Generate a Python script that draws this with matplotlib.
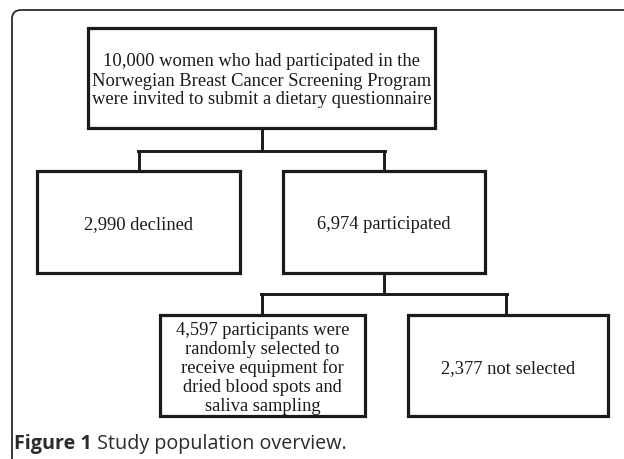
import matplotlib
matplotlib.use("Agg")
import matplotlib.pyplot as plt
from matplotlib.patches import Rectangle, FancyBboxPatch

# box texts of the flow chart
top_text = ["10,000 women who had participated in the",
            "Norwegian Breast Cancer Screening Program",
            "were invited to submit a dietary questionnaire"]
mid_texts = [["2,990 declined"], ["6,974 participated"]]
low_texts = [["4,597 participants were", "randomly selected to",
              "receive equipment for", "dried blood spots and",
              "saliva sampling"],
             ["2,377 not selected"]]
caption_bold = "Figure 1"
caption_rest = " Study population overview."

# box geometry in pixels (x0, y0, x1, y1), y down
top_box = (88, 29, 435, 129)
mid_boxes = [(37, 172, 240, 274), (283, 172, 485, 274)]
low_boxes = [(160, 316, 365, 417), (408, 316, 608, 417)]

fig = plt.figure(figsize=(6.24, 4.60), dpi=100)
ax = fig.add_axes([0, 0, 1, 1])
ax.set_xlim(0, 624)
ax.set_ylim(460, 0)
ax.axis("off")

# outer panel frame (rounded, cut by the image edge)
frame = FancyBboxPatch((12, 11), 640, 459, boxstyle="round,pad=0,rounding_size=9",
                       fill=False, ec="#2b2b2b", lw=1.3)
ax.add_patch(frame)

def box(b, lines, fs=13.3, step=19):
    x0, y0, x1, y1 = b
    ax.add_patch(Rectangle((x0, y0), x1 - x0, y1 - y0, fill=False,
                           ec="#1a1a1a", lw=2.3))
    cx = (x0 + x1) / 2
    cy = (y0 + y1) / 2 + 2
    n = len(lines)
    for i, t in enumerate(lines):
        y = cy + (i - (n - 1) / 2) * step
        ax.text(cx, y, t, ha="center", va="center", fontsize=fs,
                family="Liberation Serif", color="#1a1a1a")

lc = "#1a1a1a"
# top -> middle
ax.plot([262, 262], [129, 152], color=lc, lw=2.1)
ax.plot([138, 385], [152, 152], color=lc, lw=2.1)
ax.plot([139, 139], [152, 172], color=lc, lw=2.1)
ax.plot([384, 384], [152, 172], color=lc, lw=2.1)

# middle -> low
ax.plot([384, 384], [274, 295], color=lc, lw=2.1)
ax.plot([261, 507], [295, 295], color=lc, lw=2.1)
ax.plot([262, 262], [295, 316], color=lc, lw=2.1)
ax.plot([506, 506], [295, 316], color=lc, lw=2.1)

box(top_box, top_text)
for b, t in zip(mid_boxes, mid_texts):
    box(b, t)
for b, t in zip(low_boxes, low_texts):
    box(b, t)

# caption
cap = ax.text(14, 444, caption_bold, ha="left", va="center", fontsize=14.2,
              family="Open Sans", weight="bold", color="#2b2b2b")
fig.canvas.draw()
bb = cap.get_window_extent()
x_end = ax.transData.inverted().transform((bb.x1, bb.y0))[0]
ax.text(x_end, 444, caption_rest, ha="left", va="center", fontsize=14.2,
        family="Open Sans", color="#2b2b2b")

fig.savefig("out.png", dpi=100)
